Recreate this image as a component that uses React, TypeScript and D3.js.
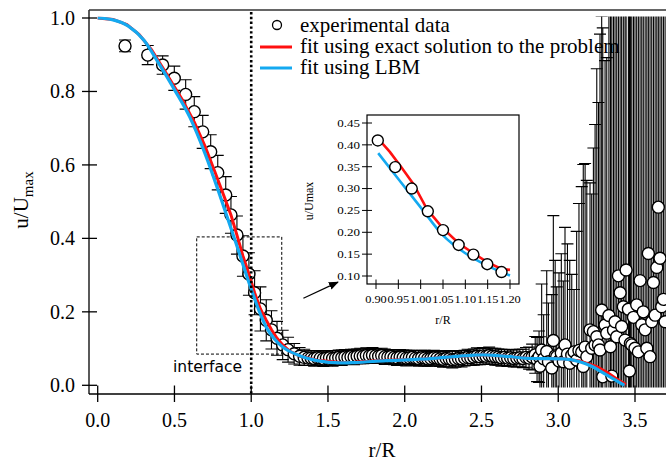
import React from "react";
import * as d3 from "d3";

// ---------- main plot data ----------
// experimental data: [r/R, u/Umax, error]
const expCore: [number, number, number][] = [
  [0.178, 0.924, 0.016], [0.326, 0.899, 0.026], [0.423, 0.872, 0.025], [0.499, 0.836, 0.033],
  [0.573, 0.792, 0.040], [0.629, 0.745, 0.041], [0.684, 0.690, 0.045], [0.736, 0.636, 0.046],
  [0.782, 0.579, 0.047], [0.834, 0.518, 0.050], [0.868, 0.464, 0.050], [0.907, 0.409, 0.052],
  [0.946, 0.352, 0.055], [0.985, 0.303, 0.058], [1.022, 0.252, 0.060], [1.060, 0.208, 0.060],
  [1.098, 0.177, 0.056], [1.132, 0.151, 0.052], [1.168, 0.128, 0.046], [1.205, 0.110, 0.040],
  [1.240, 0.097, 0.034], [1.280, 0.086, 0.028], [1.315, 0.079, 0.024], [1.345, 0.076, 0.022],
  [1.370, 0.074, 0.020],
];
const expFlat: [number, number, number][] = [
  [1.39, 0.074, 0.020], [1.41, 0.073, 0.021], [1.43, 0.075, 0.019], [1.45, 0.074, 0.020],
  [1.47, 0.072, 0.021], [1.49, 0.074, 0.020], [1.51, 0.075, 0.019], [1.53, 0.073, 0.021],
  [1.55, 0.074, 0.020], [1.57, 0.076, 0.020], [1.59, 0.075, 0.021], [1.61, 0.077, 0.020],
  [1.63, 0.076, 0.019], [1.65, 0.078, 0.020], [1.67, 0.077, 0.021], [1.69, 0.079, 0.020],
  [1.71, 0.080, 0.021], [1.73, 0.079, 0.020], [1.75, 0.081, 0.021], [1.77, 0.080, 0.020],
  [1.79, 0.082, 0.021], [1.81, 0.080, 0.020], [1.83, 0.079, 0.019], [1.85, 0.081, 0.020],
  [1.87, 0.078, 0.021], [1.89, 0.077, 0.020], [1.91, 0.078, 0.019], [1.93, 0.076, 0.020],
  [1.95, 0.075, 0.021], [1.97, 0.077, 0.020], [1.99, 0.076, 0.020], [2.01, 0.074, 0.021],
  [2.03, 0.075, 0.020], [2.05, 0.076, 0.019], [2.07, 0.074, 0.020], [2.09, 0.073, 0.021],
  [2.11, 0.075, 0.020], [2.13, 0.074, 0.021], [2.15, 0.072, 0.020], [2.17, 0.073, 0.021],
  [2.19, 0.075, 0.020], [2.21, 0.074, 0.019], [2.23, 0.072, 0.021], [2.25, 0.071, 0.022],
  [2.27, 0.073, 0.021], [2.29, 0.072, 0.022], [2.31, 0.070, 0.023], [2.33, 0.071, 0.022],
  [2.35, 0.073, 0.021], [2.37, 0.072, 0.022], [2.39, 0.074, 0.021], [2.41, 0.076, 0.022],
  [2.43, 0.075, 0.021], [2.45, 0.077, 0.022], [2.47, 0.079, 0.023], [2.49, 0.078, 0.022],
  [2.51, 0.080, 0.023], [2.53, 0.079, 0.022], [2.55, 0.081, 0.023], [2.57, 0.079, 0.022],
  [2.59, 0.078, 0.023], [2.61, 0.077, 0.022], [2.63, 0.075, 0.023], [2.65, 0.076, 0.022],
  [2.67, 0.074, 0.023], [2.69, 0.075, 0.022], [2.71, 0.073, 0.023], [2.73, 0.074, 0.024],
  [2.75, 0.075, 0.023], [2.77, 0.073, 0.025], [2.79, 0.076, 0.027], [2.81, 0.074, 0.030],
  [2.83, 0.077, 0.035],
];
const expNoisy: [number, number, number][] = [
  [2.850, 0.083, 0.050], [2.862, 0.070, 0.060], [2.875, 0.078, 0.070], [2.881, 0.052, 0.080],
  [2.892, 0.096, 0.180], [2.905, 0.072, 0.120], [2.925, 0.092, 0.220], [2.936, 0.064, 0.160],
  [2.958, 0.047, 0.200], [2.968, 0.122, 0.340], [2.980, 0.080, 0.260], [2.990, 0.078, 0.190],
  [3.005, 0.066, 0.240], [3.020, 0.088, 0.270], [3.033, 0.064, 0.220], [3.044, 0.110, 0.320],
  [3.060, 0.085, 0.300], [3.075, 0.060, 0.280], [3.088, 0.082, 0.220], [3.103, 0.091, 0.170],
  [3.120, 0.069, 0.350], [3.135, 0.095, 0.400], [3.153, 0.091, 0.450], [3.163, 0.051, 0.550],
  [3.175, 0.104, 0.500], [3.186, 0.078, 0.480], [3.207, 0.151, 0.400], [3.218, 0.101, 0.420],
  [3.229, 0.146, 0.500], [3.240, 0.110, 0.600], [3.251, 0.132, 0.730], [3.262, 0.110, 0.660],
  [3.272, 0.096, 0.860], [3.283, 0.205, 0.800], [3.290, 0.023, 0.950], [3.305, 0.164, 0.720],
  [3.316, 0.142, 0.750], [3.330, 0.190, 1.500], [3.340, 0.105, 1.500], [3.349, 0.025, 1.500],
  [3.360, 0.150, 1.500], [3.370, 0.173, 1.500], [3.381, 0.132, 1.500], [3.392, 0.298, 1.500],
  [3.403, 0.252, 1.500], [3.413, 0.160, 1.500], [3.424, 0.214, 1.500], [3.435, 0.123, 1.500],
  [3.442, 0.314, 1.500], [3.457, 0.207, 1.500], [3.464, 0.039, 1.500], [3.470, 0.114, 1.500],
  [3.479, 0.110, 1.500], [3.490, 0.185, 1.500], [3.500, 0.101, 1.500], [3.511, 0.219, 1.500],
  [3.522, 0.091, 1.500], [3.533, 0.285, 1.500], [3.544, 0.165, 1.500], [3.554, 0.200, 1.500],
  [3.566, 0.151, 1.500], [3.577, 0.101, 1.500], [3.587, 0.359, 1.500], [3.598, 0.078, 1.500],
  [3.609, 0.173, 1.500], [3.620, 0.280, 1.500], [3.631, 0.191, 1.500], [3.642, 0.321, 1.500],
  [3.652, 0.485, 1.500], [3.663, 0.346, 1.500], [3.674, 0.214, 1.500], [3.685, 0.234, 1.500],
  [3.696, 0.173, 1.500],
];
// fit using exact solution
const exactFit: [number, number][] = [
  [0, 1.0], [0.1, 0.996], [0.19, 0.982], [0.27, 0.955], [0.35, 0.914], [0.45, 0.847],
  [0.55, 0.778], [0.63, 0.716], [0.70, 0.650], [0.76, 0.585], [0.82, 0.518], [0.868, 0.464],
  [0.907, 0.409], [0.946, 0.352], [0.985, 0.303], [1.022, 0.252], [1.060, 0.208], [1.098, 0.177],
  [1.132, 0.151], [1.168, 0.128], [1.205, 0.110], [1.25, 0.093], [1.32, 0.079], [1.43, 0.068],
  [1.58, 0.062], [1.67, 0.063], [1.88, 0.068], [2.10, 0.071], [2.32, 0.078], [2.51, 0.083],
  [2.66, 0.079], [2.82, 0.073], [3.03, 0.072], [3.14, 0.066], [3.25, 0.051], [3.32, 0.035],
  [3.40, 0.012], [3.44, 0.002],
];
// fit using LBM
const lbmFit: [number, number][] = [
  [0, 1.0], [0.1, 0.995], [0.2, 0.978], [0.3, 0.940], [0.4, 0.875], [0.5, 0.805], [0.6, 0.730],
  [0.7, 0.630], [0.8, 0.512], [0.9, 0.388], [1.0, 0.262], [1.05, 0.204], [1.1, 0.157],
  [1.15, 0.127], [1.2, 0.106], [1.3, 0.083], [1.43, 0.067], [1.58, 0.061], [1.67, 0.062],
  [1.88, 0.067], [2.10, 0.071], [2.32, 0.078], [2.51, 0.083], [2.66, 0.079], [2.82, 0.073],
  [3.03, 0.072], [3.14, 0.064], [3.21, 0.053], [3.32, 0.027], [3.43, 0.0],
];
const xTicks = [0, 0.5, 1.0, 1.5, 2.0, 2.5, 3.0, 3.5];
const yTicks = [0, 0.2, 0.4, 0.6, 0.8, 1.0];
const legendLabels = ["experimental data", "fit using exact solution to the problem", "fit using LBM"];
const interfaceR = [0.645, 1.199];
const interfaceU = [0.085, 0.404];
const arrowFrom: [number, number] = [1.34, 0.237];
const arrowTo: [number, number] = [1.565, 0.281];

// ---------- inset data ----------
const insetExp: [number, number][] = [
  [0.904, 0.410], [0.943, 0.349], [0.980, 0.300], [1.016, 0.248], [1.050, 0.205],
  [1.085, 0.171], [1.118, 0.149], [1.149, 0.127], [1.181, 0.109],
];
const insetExact: [number, number][] = [
  [0.905, 0.414], [0.931, 0.384], [0.958, 0.347], [0.984, 0.310], [1.014, 0.253],
  [1.050, 0.209], [1.085, 0.175], [1.118, 0.152], [1.150, 0.131], [1.181, 0.116], [1.200, 0.114],
];
const insetLBM: [number, number][] = [
  [0.905, 0.381], [0.950, 0.322], [1.000, 0.257], [1.050, 0.193], [1.100, 0.152],
  [1.150, 0.123], [1.200, 0.101],
];
const insetXTicks = [0.9, 0.95, 1.0, 1.05, 1.1, 1.15, 1.2];
const insetYTicks = [0.1, 0.15, 0.2, 0.25, 0.3, 0.35, 0.4, 0.45];

const SERIF = "Liberation Serif, Times New Roman, serif";
const SANS = "DejaVu Sans, sans-serif";
const RED = "#ff1010";
const BLUE = "#14a9f0";

export default function App() {
  const x = d3.scaleLinear().domain([0, 3.5]).range([97.7, 635]);
  const y = d3.scaleLinear().domain([0, 1]).range([385.3, 18]);
  const allExp = [...expCore, ...expFlat, ...expNoisy];

  const straight = d3.line<[number, number]>().x((d) => x(d[0])).y((d) => y(d[1]));
  const smooth = d3.line<[number, number]>().x((d) => x(d[0])).y((d) => y(d[1])).curve(d3.curveMonotoneX);

  const ix = d3.scaleLinear().domain([0.9, 1.2]).range([376, 510]);
  const iy = d3.scaleLinear().domain([0.1, 0.45]).range([276, 123]);
  const iStraight = d3.line<[number, number]>().x((d) => ix(d[0])).y((d) => iy(d[1]));
  const iSmooth = d3.line<[number, number]>().x((d) => ix(d[0])).y((d) => iy(d[1])).curve(d3.curveMonotoneX);

  const axX = 89, axY = 394, topY = 10;
  const inL = 367, inR = 519, inT = 115, inB = 284;
  const cap = 6;
  const serif = (size: number) => ({ fontFamily: SERIF, fontSize: size });

  return (
    <svg width={666} height={462} viewBox="0 0 666 462"
      style={{ position: "absolute", left: 0, top: 0, background: "#fff" }}>
      <defs>
        <clipPath id="dataClip">
          <rect x={axX} y={16.5} width={700} height={371} />
        </clipPath>
        <marker id="arrowHead" viewBox="0 0 10 10" refX="9" refY="5" markerWidth="10" markerHeight="10"
          markerUnits="userSpaceOnUse" orient="auto">
          <path d="M0,1 L10,5 L0,9 Z" fill="#000" />
        </marker>
      </defs>
      <rect x={0} y={0} width={666} height={462} fill="#fff" />

      {/* legend (under data) */}
      <circle cx={277} cy={25} r={4.5} fill="#fff" stroke="#000" strokeWidth={1.3} />
      <line x1={260} x2={292} y1={47} y2={47} stroke={RED} strokeWidth={3} />
      <line x1={260} x2={292} y1={68} y2={68} stroke={BLUE} strokeWidth={3} />
      {legendLabels.map((t, i) => (
        <text key={t} x={300} y={32 + i * 21} fill="#000" style={serif(21)}>{t}</text>
      ))}

      {/* axes frame */}
      <g stroke="#000" strokeWidth={1.3} fill="none">
        <line x1={axX} x2={axX} y1={topY} y2={axY} />
        <line x1={axX} x2={666} y1={axY} y2={axY} />
        <line x1={axX} x2={666} y1={topY} y2={topY} stroke="#333" strokeWidth={1.6} />
        {yTicks.map((t) => (
          <line key={"yt" + t} x1={82} x2={97} y1={y(t)} y2={y(t)} />
        ))}
        {xTicks.map((t) => (
          <line key={"xt" + t} x1={x(t)} x2={x(t)} y1={385.5} y2={402} />
        ))}
      </g>
      {yTicks.map((t) => (
        <text key={"yl" + t} x={75} y={y(t) + 6.8} textAnchor="end" style={serif(20)}>{t.toFixed(1)}</text>
      ))}
      {xTicks.map((t) => (
        <text key={"xl" + t} x={x(t)} y={427} textAnchor="middle" style={serif(20)}>{t.toFixed(1)}</text>
      ))}
      <text x={382} y={457} textAnchor="middle" style={serif(21)}>r/R</text>
      <text transform="translate(28,200) rotate(-90)" textAnchor="middle" style={serif(21)}>
        u/U<tspan style={{ fontSize: 15 }} dy={5}>max</tspan>
      </text>

      {/* interface box */}
      <rect x={x(interfaceR[0])} y={y(interfaceU[1])} width={x(interfaceR[1]) - x(interfaceR[0])}
        height={y(interfaceU[0]) - y(interfaceU[1])} fill="none" stroke="#000" strokeWidth={1}
        strokeDasharray="3 2" />
      <text x={173} y={372} style={{ fontFamily: SANS, fontSize: 15.5 }} fill="#000">interface</text>

      {/* data */}
      <g clipPath="url(#dataClip)">
        <g stroke="#000" strokeWidth={1.1}>
          {allExp.map((d, i) => {
            const cx = x(d[0]);
            const y0 = y(d[1] - d[2]);
            const y1 = y(d[1] + d[2]);
            return (
              <g key={"e" + i}>
                <line x1={cx} x2={cx} y1={y0} y2={y1} />
                <line x1={cx - cap} x2={cx + cap} y1={y0} y2={y0} />
                <line x1={cx - cap} x2={cx + cap} y1={y1} y2={y1} />
              </g>
            );
          })}
        </g>
        <g fill="#fff" stroke="#000" strokeWidth={1.4}>
          {allExp.map((d, i) => (
            <circle key={"c" + i} cx={x(d[0])} cy={y(d[1])} r={6} />
          ))}
        </g>
        <path d={straight(exactFit) || ""} fill="none" stroke={RED} strokeWidth={3} />
        <path d={smooth(lbmFit) || ""} fill="none" stroke={BLUE} strokeWidth={3.2} />
      </g>
      <line x1={x(1)} x2={x(1)} y1={12} y2={394} stroke="#000" strokeWidth={2.6} strokeDasharray="2.4 2.4" />

      {/* arrow */}
      <line x1={x(arrowFrom[0])} y1={y(arrowFrom[1])} x2={x(arrowTo[0])} y2={y(arrowTo[1])}
        stroke="#000" strokeWidth={1.3} markerEnd="url(#arrowHead)" />

      {/* inset */}
      <rect x={inL} y={inT} width={inR - inL} height={inB - inT} fill="#fff" stroke="#000" strokeWidth={1.2} />
      <g stroke="#000" strokeWidth={1}>
        {insetYTicks.map((t) => (
          <line key={"iyt" + t} x1={362} x2={372} y1={iy(t)} y2={iy(t)} />
        ))}
        {insetXTicks.map((t) => (
          <line key={"ixt" + t} x1={ix(t)} x2={ix(t)} y1={279.5} y2={289} />
        ))}
      </g>
      {insetYTicks.map((t) => (
        <text key={"iyl" + t} transform={`translate(360,${iy(t) + 3.8}) scale(1.18,1)`} textAnchor="end"
          style={serif(11)}>
          {t.toFixed(2)}
        </text>
      ))}
      {insetXTicks.map((t) => (
        <text key={"ixl" + t} transform={`translate(${ix(t)},303) scale(1.12,1)`} textAnchor="middle"
          style={serif(11)}>
          {t.toFixed(2)}
        </text>
      ))}
      <text x={443} y={324} textAnchor="middle" style={serif(12)}>r/R</text>
      <text transform="translate(313,201) rotate(-90)" textAnchor="middle" style={serif(12)}>u/Umax</text>
      <path d={iStraight(insetExact) || ""} fill="none" stroke={RED} strokeWidth={2.6} />
      <path d={iSmooth(insetLBM) || ""} fill="none" stroke={BLUE} strokeWidth={2.6} />
      <g fill="#fff" stroke="#000" strokeWidth={1.4}>
        {insetExp.map((d, i) => (
          <circle key={"ic" + i} cx={ix(d[0])} cy={iy(d[1])} r={5.5} />
        ))}
      </g>
    </svg>
  );
}
